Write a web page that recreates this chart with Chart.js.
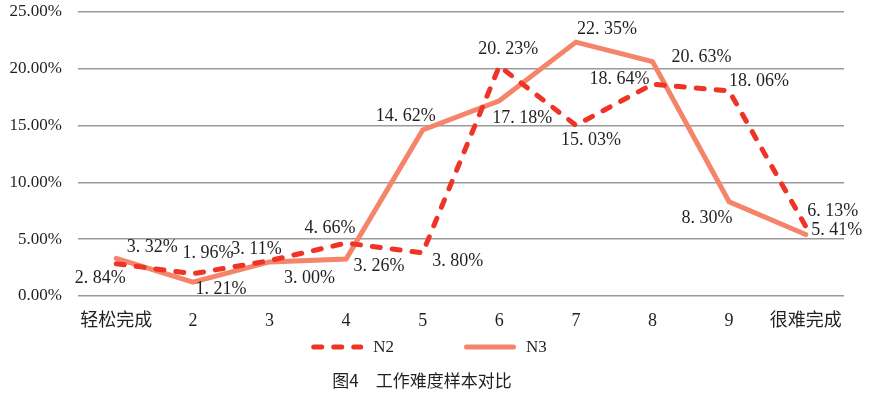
<!DOCTYPE html>
<html>
<head>
<meta charset="utf-8">
<script src="https://cdn.jsdelivr.net/npm/chart.js@4.4.1/dist/chart.umd.min.js"></script>
<style>
  html, body { margin: 0; padding: 0; background: #fff; }
  #wrap { width: 871px; height: 396px; position: relative; }
</style>
</head>
<body>
<div id="wrap"><canvas id="difficultyChart"></canvas></div>
<script>
// categories along the x axis
const categories = ['轻松完成', '2', '3', '4', '5', '6', '7', '8', '9', '很难完成'];
// percentages
const n2Values = [2.84, 1.96, 3.11, 4.66, 3.80, 20.23, 15.03, 18.64, 18.06, 6.13];
const n3Values = [3.32, 1.21, 3.00, 3.26, 14.62, 17.18, 22.35, 20.63, 8.30, 5.41];
const yTicks = [0, 5, 10, 15, 20, 25];

// where each value label sits relative to its point (px)
const labelShift = [
  [[-16, 15], [15, -20], [-13, -11], [-16, -15], [35, 8], [9, -17], [15, 15], [-33, -5], [30, -10], [27, -15]],
  [[36, -11], [28, 7], [40, 16], [33, 7], [-17, -14], [23, 17], [31, -13], [49, -4], [-22, 17], [31, -4]]
];

const serif = '"Liberation Serif", "Times New Roman", "Noto Sans CJK SC", serif';
const ink = '#231f20';

function fmtLabel(v) {
  return v.toFixed(2).replace('.', '. ') + '%';
}

const valueLabels = {
  id: 'valueLabels',
  afterDatasetsDraw(chart) {
    const ctx = chart.ctx;
    ctx.save();
    ctx.font = '18px ' + serif;
    ctx.fillStyle = ink;
    ctx.textAlign = 'center';
    ctx.textBaseline = 'middle';
    chart.data.datasets.forEach((ds, di) => {
      const meta = chart.getDatasetMeta(di);
      meta.data.forEach((pt, i) => {
        const off = labelShift[di][i];
        ctx.fillText(fmtLabel(ds.data[i]), pt.x + off[0], pt.y + off[1]);
      });
    });
    ctx.restore();
  }
};

// legend drawn in the gap between x axis and caption: line sample + name
const lineLegend = {
  id: 'lineLegend',
  afterDraw(chart) {
    const ctx = chart.ctx;
    const y = chart.chartArea.bottom + 51;
    const lineLen = 52, textGap = 10, itemGap = 70;
    ctx.save();
    ctx.font = '17px ' + serif;
    ctx.textBaseline = 'middle';
    ctx.textAlign = 'left';
    const items = chart.data.datasets.map(ds => ({ ds, w: lineLen + textGap + ctx.measureText(ds.label).width }));
    const total = items.reduce((s, it) => s + it.w, 0) + itemGap * (items.length - 1);
    let x = (chart.width - 27) / 2 + 7 - total / 2;
    items.forEach(it => {
      const ds = it.ds;
      ctx.strokeStyle = ds.borderColor;
      ctx.lineWidth = ds.borderWidth;
      ctx.lineCap = 'round';
      ctx.setLineDash(ds.borderDash || []);
      ctx.beginPath();
      ctx.moveTo(x + 2.5, y);
      ctx.lineTo(x + lineLen - 2.5, y);
      ctx.stroke();
      ctx.setLineDash([]);
      ctx.fillStyle = ink;
      ctx.fillText(ds.label, x + lineLen + textGap, y + 1);
      x += it.w + itemGap;
    });
    ctx.restore();
  }
};

const ctx = document.getElementById('difficultyChart').getContext('2d');
new Chart(ctx, {
  type: 'line',
  data: {
    labels: categories,
    datasets: [
      {
        label: 'N2',
        data: n2Values,
        borderColor: '#ee3327',
        backgroundColor: '#ee3327',
        borderWidth: 5,
        borderDash: [8, 12],
        borderCapStyle: 'round',
        pointRadius: 0,
        tension: 0
      },
      {
        label: 'N3',
        data: n3Values,
        borderColor: '#f5856a',
        backgroundColor: '#f5856a',
        borderWidth: 5,
        borderCapStyle: 'round',
        pointRadius: 0,
        tension: 0
      }
    ]
  },
  options: {
    responsive: true,
    maintainAspectRatio: false,
    animation: false,
    layout: { padding: { top: 0, right: 27, left: 0, bottom: 0 } },
    scales: {
      x: {
        offset: true,
        grid: { display: false },
        border: { display: false },
        ticks: {
          color: ink,
          padding: 6,
          maxRotation: 0,
          minRotation: 0,
          autoSkip: false,
          font: { family: serif, size: 18 }
        }
      },
      y: {
        min: 0,
        max: 25,
        afterBuildTicks(axis) {
          axis.ticks = yTicks.map(v => ({ value: v }));
        },
        afterFit(axis) {
          axis.width = 78;
          axis.paddingTop = 12;
          axis.paddingBottom = 0;
        },
        grid: { color: '#9a9a9a', lineWidth: 1.5, drawTicks: false },
        border: { display: false },
        ticks: {
          color: ink,
          padding: 16,
          font: { family: serif, size: 17 },
          callback: v => v.toFixed(2) + '%'
        }
      }
    },
    plugins: {
      legend: { display: false },
      title: {
        display: true,
        position: 'bottom',
        text: '图4　工作难度样本对比',
        color: ink,
        padding: { top: 33, bottom: 5 },
        font: { family: '"Noto Sans CJK SC", sans-serif', size: 17, weight: 'normal' }
      },
      tooltip: { enabled: false }
    }
  },
  plugins: [valueLabels, lineLegend]
});
</script>
</body>
</html>
